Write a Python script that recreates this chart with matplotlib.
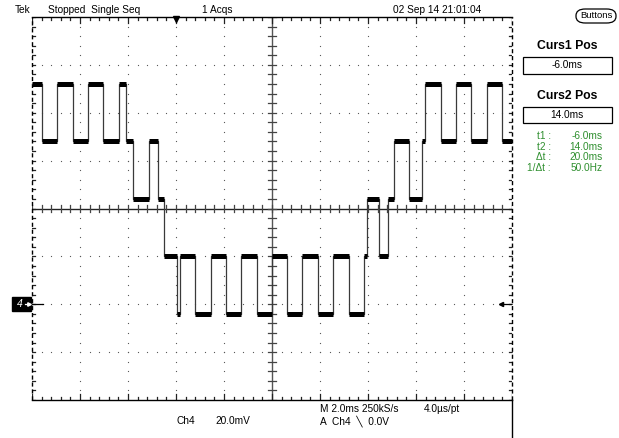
import numpy as np
import matplotlib
matplotlib.use("Agg")
import matplotlib.pyplot as plt
from matplotlib.patches import Rectangle, FancyBboxPatch
from matplotlib.lines import Line2D

plt.rcParams['font.family'] = ['Liberation Sans', 'DejaVu Sans']

# trace: segment boundaries (ms) and level of each segment (mV)
t_bounds = [-6.0, -5.60, -4.95, -4.30, -3.67, -3.03, -2.39, -2.10, -1.78, -1.13,
            -0.74, -0.49, 0.03, 0.17, 0.80, 1.45, 2.08, 2.71, 3.36, 4.00,
            4.64, 5.27, 5.90, 6.55, 7.20, 7.83, 7.96, 8.45, 8.85, 9.10,
            9.72, 10.26, 10.38, 11.03, 11.67, 12.29, 12.95, 13.57, 14.0]
seg_mv = [92, 68, 92, 68, 92, 68, 92, 68, 44, 68,
          44, 20, -4, 20, -4, 20, -4, 20, -4, 20,
          -4, 20, -4, 20, -4, 20, 44, 20, 44, 68,
          44, 68, 92, 68, 92, 68, 92, 68]

# scope settings
ms_per_div = 2.0
mv_per_div = 20.0
t_left, t_right = -6.0, 14.0      # cursor 1 / cursor 2
mv_bottom, mv_top = -40.0, 120.0
center_t = 4.0
center_mv = 40.0

W, H = 619, 438
fig = plt.figure(figsize=(W / 100, H / 100), dpi=100)
ax = fig.add_axes([32 / W, 38 / H, 480 / W, 383 / H])
ax.set_xlim(t_left, t_right)
ax.set_ylim(mv_bottom, mv_top)
ax.set_xticks([])
ax.set_yticks([])
ax.patch.set_alpha(0)
for s in ["left", "right"]:
    ax.spines[s].set_visible(False)
for s in ["top", "bottom"]:
    ax.spines[s].set_linewidth(1.0)

px_t = ms_per_div / 48.0
px_mv = mv_per_div / 48.0

# dotted graticule
gx = np.arange(t_left, t_right + 0.01, ms_per_div / 5)
gy = np.arange(mv_bottom, mv_top + 0.01, mv_per_div / 5)
for t in np.arange(t_left + ms_per_div, t_right - 0.01, ms_per_div):
    if abs(t - center_t) > 0.01:
        ax.scatter(np.full(len(gy), t), gy, s=0.8, color="#555555", lw=0)
for v in np.arange(mv_bottom + mv_per_div, mv_top - 0.01, mv_per_div):
    if abs(v - center_mv) > 0.01:
        ax.scatter(gx, np.full(len(gx), v), s=0.8, color="#555555", lw=0)

# center cross with ticks
ax.axvline(center_t, color="#555555", lw=1.0)
ax.axhline(center_mv, color="#222222", lw=1.0)
for t in gx:
    ax.plot([t, t], [center_mv - 4 * px_mv, center_mv + 4 * px_mv], color="#444444", lw=0.9)
    ln = 6 if abs((t - t_left) % ms_per_div) < 0.01 else 3
    ax.plot([t, t], [mv_top, mv_top - ln * px_mv], color="#222222", lw=0.9)
    ax.plot([t, t], [mv_bottom, mv_bottom + ln * px_mv], color="#222222", lw=0.9)
for v in gy:
    ax.plot([center_t - 4 * px_t, center_t + 4 * px_t], [v, v], color="#444444", lw=0.9)
    ax.plot([t_left, t_left + 3 * px_t], [v, v], color="#222222", lw=0.9)
    ax.plot([t_right, t_right - 3 * px_t], [v, v], color="#222222", lw=0.9)

# cursors on the edges
ax.axvline(t_left, color="black", lw=1.0, ls=(0, (3, 2)), clip_on=False)
ax.axvline(t_right, color="black", lw=1.0, ls=(0, (3, 2)), clip_on=False)

# trace
step_t = np.repeat(t_bounds, 2)[1:-1]
step_v = np.repeat(seg_mv, 2)
ax.plot(step_t, step_v, color="#3a3a3a", lw=0.9)
for i, v in enumerate(seg_mv):
    ax.plot([t_bounds[i], t_bounds[i + 1]], [v, v], color="black", lw=3.6,
            solid_capstyle="butt")

# trigger position and level markers
ax.plot([0], [mv_top - 2 * px_mv], marker="v", color="black", ms=5, clip_on=False)
ax.plot([t_right - 12 * px_t, t_right - 1 * px_t], [0, 0], color="black", lw=0.9)
ax.plot([t_right - 11 * px_t], [0], marker="<", color="black", ms=3)
ax.plot([t_left, t_left + 11 * px_t], [0, 0], color="black", lw=0.9)


def fx(x):
    return x / W


def fy(y):
    return 1 - y / H


# ground marker for channel 4
fig.patches.append(Rectangle((fx(12), fy(311)), 19 / W, 14 / H, transform=fig.transFigure,
                             color="black", zorder=0.5))
fig.text(fx(20), fy(304), "4", color="white", fontsize=7.5, style="italic",
         ha="center", va="center")
fig.add_artist(Line2D([fx(25), fx(30)], [fy(304), fy(304)], color="white", lw=0.9))
fig.add_artist(Line2D([fx(29)], [fy(304)], marker=">", ms=2.5, color="white", lw=0))

# status line
fs = 7.3
fig.text(fx(15), fy(10), "Tek", fontsize=fs, va="center")
fig.text(fx(48), fy(10), "Stopped  Single Seq", fontsize=fs, va="center")
fig.text(fx(202), fy(10), "1 Acqs", fontsize=fs, va="center")
fig.text(fx(393), fy(10), "02 Sep 14 21:01:04", fontsize=fs, va="center")

# bottom readouts
fig.text(fx(176), fy(421), "Ch4", fontsize=fs, va="center")
fig.text(fx(215), fy(421), "20.0mV", fontsize=fs, va="center")
fig.text(fx(320), fy(409), "M 2.0ms 250kS/s", fontsize=fs, va="center")
fig.text(fx(320), fy(421), "A  Ch4  \u2572  0.0V", fontsize=fs, va="center")
fig.text(fx(424), fy(409), "4.0\u00b5s/pt", fontsize=fs, va="center")

# side panel separator
fig.add_artist(Line2D([fx(512), fx(512)], [fy(400), 0], color="black", lw=1.0))

# side menu
fig.patches.append(FancyBboxPatch((fx(576), fy(23)), 40 / W, 14 / H,
                                  boxstyle="round,pad=0,rounding_size=0.015",
                                  transform=fig.transFigure, fill=False,
                                  ec="black", lw=0.9))
fig.text(fx(596), fy(16), "Buttons", fontsize=6.8, ha="center", va="center")

fig.text(fx(567), fy(46), "Curs1 Pos", fontsize=8.8, weight="bold", ha="center", va="center")
fig.patches.append(Rectangle((fx(523), fy(74)), 89 / W, 17 / H, transform=fig.transFigure,
                             fill=False, ec="black", lw=0.9))
fig.text(fx(567), fy(65), "-6.0ms", fontsize=fs, ha="center", va="center")

fig.text(fx(567), fy(96), "Curs2 Pos", fontsize=8.8, weight="bold", ha="center", va="center")
fig.patches.append(Rectangle((fx(523), fy(123)), 89 / W, 16 / H, transform=fig.transFigure,
                             fill=False, ec="black", lw=0.9))
fig.text(fx(567), fy(115), "14.0ms", fontsize=fs, ha="center", va="center")

green = "#2f8f2f"
labels = ["t1 :", "t2 :", "\u0394t :", "1/\u0394t :"]
values = ["-6.0ms", "14.0ms", "20.0ms", "50.0Hz"]
rows_y = [136, 147, 157, 168]
for lab, val, y in zip(labels, values, rows_y):
    fig.text(fx(551), fy(y), lab, fontsize=fs, color=green, ha="right", va="center")
    fig.text(fx(603), fy(y), val, fontsize=fs, color=green, ha="right", va="center")

fig.savefig("out.png", dpi=100)
